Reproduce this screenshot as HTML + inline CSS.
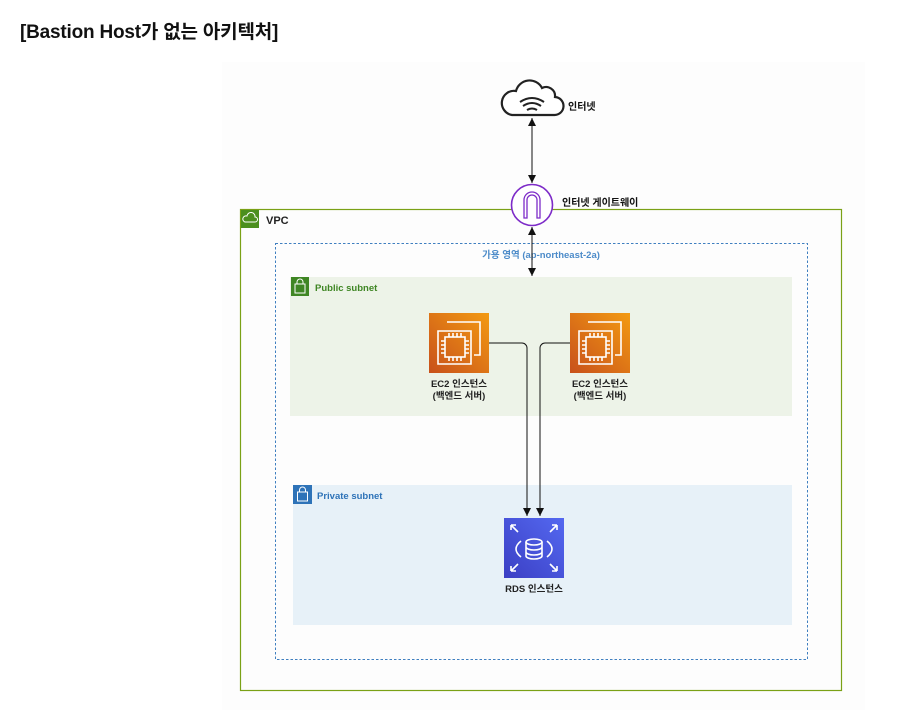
<!DOCTYPE html>
<html><head><meta charset="utf-8"><style>
html,body{margin:0;padding:0;background:#fff;width:917px;height:710px;overflow:hidden}
.t{position:absolute;left:20px;top:17px;font:bold 19px "Liberation Sans","Noto Sans CJK KR",sans-serif;color:#111;letter-spacing:-0.2px}
svg{position:absolute;left:0;top:0}
text{font-family:"Liberation Sans","Noto Sans CJK KR",sans-serif;font-weight:bold}
</style></head><body>
<div class="t">[Bastion Host가 없는 아키텍처]</div>
<svg width="917" height="710" viewBox="0 0 917 710">
<defs>
<linearGradient id="og" x1="0" y1="1" x2="1" y2="0"><stop offset="0" stop-color="#C8511B"/><stop offset="1" stop-color="#F39A12"/></linearGradient>
<linearGradient id="bg" x1="0" y1="1" x2="1" y2="0"><stop offset="0" stop-color="#3B3FC4"/><stop offset="1" stop-color="#5468F0"/></linearGradient>
<marker id="ar" markerWidth="9" markerHeight="8" refX="8" refY="4" orient="auto-start-reverse" markerUnits="userSpaceOnUse"><path d="M0,0 L8,4 L0,8 Z" fill="#111"/></marker>
<g id="ec2">
<rect width="60" height="60" fill="url(#og)"/>
<g fill="none" stroke="#fff" stroke-width="1.6">
<path d="M18 9 H51 V42 H45"/><path d="M9 18 H42 V51 H9 Z"/>
<rect x="16" y="24" width="20" height="20"/>
<path d="M20 20v4M24 20v4M28 20v4M32 20v4M20 44v4M24 44v4M28 44v4M32 44v4M12 28h4M12 32h4M12 36h4M12 40h4M36 28h4M36 32h4M36 36h4M36 40h4"/>
</g></g>
</defs>
<rect x="222" y="62" width="643" height="648" fill="#fdfdfd"/>
<!-- cloud -->
<path d="M512 115 h42 a9 9 0 0 0 1-18 a9 9 0 0 0 -13-9 a14 14 0 0 0 -26 3 a12 12 0 0 0 -4 24 Z" fill="#fff" stroke="#222" stroke-width="2.2"/>
<path d="M520 102 q12-8 24 0 M523 106 q9-6 18 0 M527 110 q5-3 10 0" fill="none" stroke="#222" stroke-width="2"/>
<text x="568" y="110" font-size="10" fill="#111">인터넷</text>
<line x1="532" y1="118" x2="532" y2="183" stroke="#111" stroke-width="1" marker-start="url(#ar)" marker-end="url(#ar)"/>
<!-- VPC -->
<rect x="240.5" y="209.5" width="601" height="481" fill="none" stroke="#7AA116" stroke-width="1.2"/>
<rect x="241" y="210" width="18" height="18" fill="#4B8F1E"/>
<path d="M245 222 h10 a2.5 2.5 0 0 0 0-5 a4 4 0 0 0 -8-1 a3 3 0 0 0 -2 6z" fill="none" stroke="#fff" stroke-width="1"/>
<text x="266" y="224" font-size="11" fill="#222">VPC</text>
<!-- IGW -->
<circle cx="532" cy="205" r="20.5" fill="#fff" stroke="#7D2BC8" stroke-width="1.6"/>
<path d="M524 218 V200 a8 8 0 0 1 16 0 V218 h-3 V200 a5 5 0 0 0 -10 0 V218 Z" fill="none" stroke="#7D2BC8" stroke-width="1.3"/>
<text x="562" y="206" font-size="10" fill="#111">인터넷 게이트웨이</text>
<!-- AZ -->
<rect x="275.5" y="243.5" width="532" height="416" fill="none" stroke="#3F7FC0" stroke-width="1" stroke-dasharray="2.5,2"/>
<text x="541" y="258" font-size="9.5" fill="#4C8BC9" text-anchor="middle" font-weight="normal">가용 영역 (ap-northeast-2a)</text>
<line x1="532" y1="227" x2="532" y2="276" stroke="#111" stroke-width="1" marker-start="url(#ar)" marker-end="url(#ar)"/>
<!-- public subnet -->
<rect x="290" y="277" width="502" height="139" fill="#EDF3E8"/>
<rect x="291" y="277" width="18" height="19" fill="#3F8624"/>
<rect x="295" y="284" width="10" height="9" fill="none" stroke="#fff" stroke-width="1"/><path d="M297 284 v-2 a3 3 0 0 1 6 0 v2" fill="none" stroke="#fff" stroke-width="1"/>
<text x="315" y="291" font-size="9.5" fill="#3F8624">Public subnet</text>
<use href="#ec2" x="429" y="313"/>
<use href="#ec2" x="570" y="313"/>
<text x="459" y="387" font-size="9.5" fill="#222" text-anchor="middle">EC2 인스턴스</text>
<text x="459" y="399" font-size="9.5" fill="#222" text-anchor="middle">(백엔드 서버)</text>
<text x="600" y="387" font-size="9.5" fill="#222" text-anchor="middle">EC2 인스턴스</text>
<text x="600" y="399" font-size="9.5" fill="#222" text-anchor="middle">(백엔드 서버)</text>
<!-- private subnet -->
<rect x="293" y="485" width="499" height="140" fill="#E7F1F8"/>
<rect x="293" y="485" width="19" height="19" fill="#2E73B8"/>
<rect x="297.5" y="492" width="10" height="9" fill="none" stroke="#fff" stroke-width="1"/><path d="M299.5 492 v-2 a3 3 0 0 1 6 0 v2" fill="none" stroke="#fff" stroke-width="1"/>
<text x="317" y="499" font-size="9.5" fill="#2E73B8">Private subnet</text>
<!-- RDS -->
<rect x="504" y="518" width="60" height="60" fill="url(#bg)"/>
<g fill="none" stroke="#fff" stroke-width="1.6">
<ellipse cx="534" cy="542" rx="8" ry="3"/><path d="M526 542 v14 a8 3 0 0 0 16 0 v-14 M526 547 a8 3 0 0 0 16 0 M526 552 a8 3 0 0 0 16 0"/>
<path d="M521 541 q-10 8 0 16 M547 541 q10 8 0 16"/>
<path d="M511 525 l7 7 M511 525 h5 M511 525 v5 M557 525 l-7 7 M557 525 h-5 M557 525 v5 M511 571 l7 -7 M511 571 h5 M511 571 v-5 M557 571 l-7 -7 M557 571 h-5 M557 571 v-5"/>
</g>
<text x="534" y="592" font-size="9.5" fill="#222" text-anchor="middle">RDS 인스턴스</text>
<!-- connectors -->
<path d="M489 343 H522 a5 5 0 0 1 5 5 V516" fill="none" stroke="#111" stroke-width="1" marker-end="url(#ar)"/>
<path d="M570 343 H545 a5 5 0 0 0 -5 5 V516" fill="none" stroke="#111" stroke-width="1" marker-end="url(#ar)"/>
</svg>
</body></html>
